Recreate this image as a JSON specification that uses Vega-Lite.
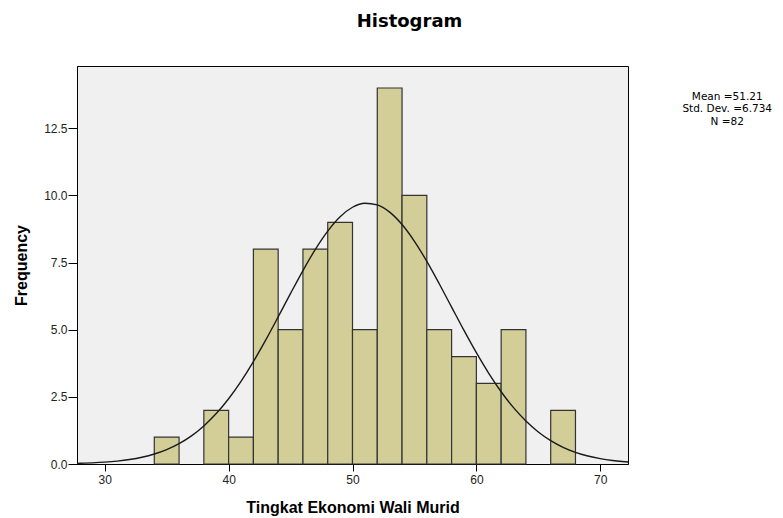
{
  "$schema": "https://vega.github.io/schema/vega-lite/v6.json",
  "autosize": {"type": "none"},
  "padding": {"left": 77, "top": 66, "right": 155, "bottom": 53},
  "width": 551,
  "height": 398,
  "background": "white",
  "title": {"text": "Histogram", "fontSize": 18, "font": "DejaVu Sans", "fontWeight": "bold", "anchor": "middle", "frame": "group", "dx": 57, "offset": 35, "color": "#000"},
  "datasets": {
    "bins": [
      {"start": 34, "end": 36, "count": 1},
      {"start": 38, "end": 40, "count": 2},
      {"start": 40, "end": 42, "count": 1},
      {"start": 42, "end": 44, "count": 8},
      {"start": 44, "end": 46, "count": 5},
      {"start": 46, "end": 48, "count": 8},
      {"start": 48, "end": 50, "count": 9},
      {"start": 50, "end": 52, "count": 5},
      {"start": 52, "end": 54, "count": 14},
      {"start": 54, "end": 56, "count": 10},
      {"start": 56, "end": 58, "count": 5},
      {"start": 58, "end": 60, "count": 4},
      {"start": 60, "end": 62, "count": 3},
      {"start": 62, "end": 64, "count": 5},
      {"start": 66, "end": 68, "count": 2}
    ],
    "curve": [
      {"x": 27.76, "f": 0.0237},
      {"x": 28, "f": 0.0256},
      {"x": 29, "f": 0.0422},
      {"x": 30, "f": 0.0681},
      {"x": 31, "f": 0.1076},
      {"x": 32, "f": 0.1660},
      {"x": 33, "f": 0.2510},
      {"x": 34, "f": 0.3708},
      {"x": 35, "f": 0.5359},
      {"x": 36, "f": 0.7579},
      {"x": 37, "f": 1.0484},
      {"x": 38, "f": 1.4184},
      {"x": 39, "f": 1.8776},
      {"x": 40, "f": 2.4307},
      {"x": 41, "f": 3.0783},
      {"x": 42, "f": 3.8133},
      {"x": 43, "f": 4.6207},
      {"x": 44, "f": 5.4772},
      {"x": 45, "f": 6.3510},
      {"x": 46, "f": 7.2029},
      {"x": 47, "f": 7.9913},
      {"x": 48, "f": 8.6726},
      {"x": 49, "f": 9.2066},
      {"x": 50, "f": 9.5604},
      {"x": 51, "f": 9.7112},
      {"x": 52, "f": 9.6494},
      {"x": 53, "f": 9.3788},
      {"x": 54, "f": 8.9169},
      {"x": 55, "f": 8.2928},
      {"x": 56, "f": 7.5443},
      {"x": 57, "f": 6.7132},
      {"x": 58, "f": 5.8439},
      {"x": 59, "f": 4.9763},
      {"x": 60, "f": 4.1449},
      {"x": 61, "f": 3.3770},
      {"x": 62, "f": 2.6913},
      {"x": 63, "f": 2.0980},
      {"x": 64, "f": 1.5999},
      {"x": 65, "f": 1.1934},
      {"x": 66, "f": 0.8709},
      {"x": 67, "f": 0.6216},
      {"x": 68, "f": 0.4340},
      {"x": 69, "f": 0.2964},
      {"x": 70, "f": 0.1981},
      {"x": 71, "f": 0.1295},
      {"x": 72, "f": 0.0827},
      {"x": 72.24, "f": 0.0760}
    ],
    "stats": [
      {"label": "Mean =51.21\nStd. Dev. =6.734\nN =82"}
    ]
  },
  "layer": [
    {
      "data": {"name": "bins"},
      "mark": {"type": "bar", "fill": "#d3ce98", "stroke": "#333333", "strokeWidth": 1.2},
      "encoding": {
        "x": {"field": "start", "type": "quantitative", "scale": {"domain": [27.76, 72.24], "nice": false, "zero": false},
              "axis": {"values": [30, 40, 50, 60, 70], "title": "Tingkat Ekonomi Wali Murid", "grid": false, "ticks": true, "tickSize": 7, "tickWidth": 1, "tickColor": "#000", "domainColor": "#000", "labelFont": "Liberation Sans", "labelFontSize": 12, "labelColor": "#222", "labelPadding": 3, "titleFont": "Liberation Sans", "titleFontSize": 16, "titleFontWeight": "bold", "titleColor": "#000", "titlePadding": 14}},
        "x2": {"field": "end"},
        "y": {"field": "count", "type": "quantitative", "scale": {"domain": [0, 14.82], "nice": false},
              "axis": {"values": [0, 2.5, 5, 7.5, 10, 12.5], "format": ".1f", "title": "Frequency", "grid": false, "ticks": true, "tickSize": 9, "tickWidth": 1, "tickColor": "#000", "domainColor": "#000", "labelFont": "Liberation Sans", "labelFontSize": 12, "labelColor": "#222", "labelPadding": 1, "titleFont": "Liberation Sans", "titleFontSize": 16, "titleFontWeight": "bold", "titleColor": "#000", "titlePadding": 14.5}},
        "y2": {"datum": 0}
      }
    },
    {
      "data": {"name": "curve"},
      "mark": {"type": "line", "color": "#1a1a1a", "strokeWidth": 1.4, "interpolate": "monotone"},
      "encoding": {
        "x": {"field": "x", "type": "quantitative"},
        "y": {"field": "f", "type": "quantitative"}
      }
    },
    {
      "data": {"name": "stats"},
      "mark": {"type": "text", "align": "center", "baseline": "middle", "lineBreak": "\n", "lineHeight": 12.8, "font": "DejaVu Sans", "fontSize": 10.5, "color": "#000", "clip": false},
      "encoding": {
        "x": {"datum": 80.25, "type": "quantitative"},
        "y": {"datum": 13.68, "type": "quantitative"},
        "text": {"field": "label"}
      }
    }
  ],
  "config": {
    "view": {"fill": "#f0f0f0", "stroke": "#000", "strokeWidth": 1}
  }
}
